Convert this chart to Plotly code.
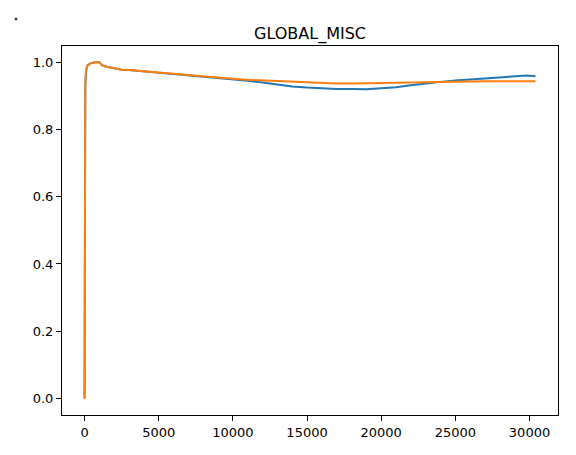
import plotly.graph_objects as go

# ---- data ----
x_orange = [0, 20, 50, 100, 200, 400, 700, 1000, 1200, 1500, 2000, 2500, 3000, 3500, 4000,
            4500, 5000, 5500, 6000, 7000, 8000, 8600, 9000, 10000, 11000, 12000, 13000,
            14000, 15000, 16000, 17000, 18000, 19000, 20000, 21000, 22000, 23000, 24000,
            25000, 26000, 27000, 28000, 29000, 30400]
y_orange = [0.0, 0.6, 0.93, 0.975, 0.99, 0.996, 0.999, 0.999, 0.990, 0.986, 0.981, 0.977,
            0.976, 0.974, 0.973, 0.971, 0.969, 0.968, 0.966, 0.962, 0.957, 0.955, 0.953,
            0.950, 0.947, 0.945, 0.942, 0.940, 0.938, 0.937, 0.936, 0.936, 0.937, 0.937,
            0.938, 0.939, 0.940, 0.941, 0.942, 0.943, 0.943, 0.943, 0.943, 0.943]

x_blue = [0, 20, 50, 100, 200, 400, 700, 1000, 1200, 1500, 2000, 2500, 3000, 3500, 4000,
          4500, 5000, 5500, 6000, 7000, 8000, 8600, 9000, 10000, 11000, 12000, 13000,
          14000, 15000, 16000, 17000, 18000, 19000, 20000, 21000, 22000, 23000, 24000,
          25000, 26000, 27000, 28000, 29000, 29800, 30400]
y_blue = [0.0, 0.6, 0.93, 0.975, 0.99, 0.996, 0.999, 0.999, 0.990, 0.986, 0.981, 0.977,
          0.976, 0.974, 0.973, 0.971, 0.969, 0.968, 0.966, 0.962, 0.957, 0.955, 0.953,
          0.949, 0.944, 0.939, 0.932, 0.927, 0.924, 0.921, 0.920, 0.920, 0.919, 0.922,
          0.925, 0.931, 0.937, 0.941, 0.945, 0.948, 0.952, 0.956, 0.957, 0.960, 0.958]

x_ticks = [0, 5000, 10000, 15000, 20000, 25000, 30000]
y_ticks = [0.0, 0.2, 0.4, 0.6, 0.8, 1.0]
title_text = "GLOBAL_MISC"

FONT = "DejaVu Sans"

fig = go.Figure()
fig.add_trace(go.Scatter(x=x_blue, y=y_blue, mode="lines",
                         line=dict(color="#1f77b4", width=2), showlegend=False))
fig.add_trace(go.Scatter(x=x_orange, y=y_orange, mode="lines",
                         line=dict(color="#ff7f0e", width=2), showlegend=False))

axis_common = dict(showgrid=False, zeroline=False, showline=True, linecolor="black",
                   linewidth=1, mirror=True, ticks="outside", ticklen=5, tickwidth=1,
                   tickcolor="black", tickfont=dict(family=FONT, size=13, color="black"))

fig.update_xaxes(range=[-1520, 31920], tickvals=x_ticks,
                 ticktext=[str(v) for v in x_ticks], **axis_common)
fig.update_yaxes(range=[-0.0488, 1.0476], tickvals=y_ticks,
                 ticktext=[f"{v:.1f}" for v in y_ticks], **axis_common)

W, H = 576, 455
L, R, T, B = 62, 18, 46, 40
pw, ph = W - L - R, H - T - B

def px(xp):
    return (xp - L) / pw

def py(yp):
    return (H - B - yp) / ph

fig.update_layout(
    width=W, height=H,
    margin=dict(l=L, r=R, t=T, b=B),
    paper_bgcolor="white", plot_bgcolor="white",
    title=dict(text=title_text, x=310 / W, xanchor="center", y=1 - 33 / H,
               yanchor="middle", font=dict(family=FONT, size=16, color="black")),
    shapes=[
        dict(type="line", xref="paper", yref="paper", x0=px(14.5), x1=px(17.5),
             y0=py(19), y1=py(19), line=dict(color="black", width=1)),
        dict(type="line", xref="paper", yref="paper", x0=px(16), x1=px(16),
             y0=py(17.5), y1=py(20.5), line=dict(color="black", width=1)),
    ],
)

fig.write_html("out.html",
               config={"displayModeBar": False},
               post_script="document.body.style.margin='0';document.body.style.padding='0';")
